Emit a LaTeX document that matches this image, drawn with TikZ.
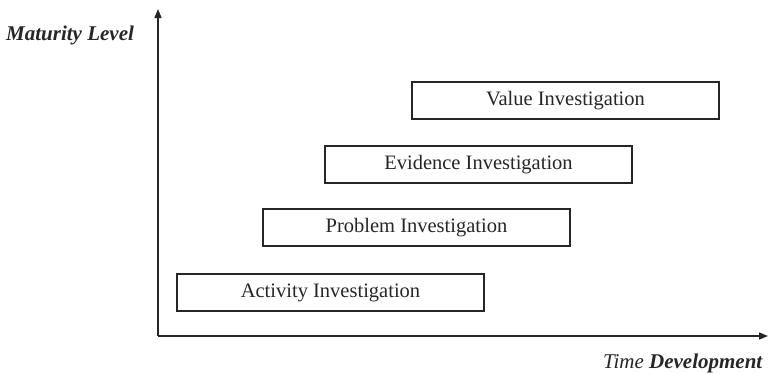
\documentclass[tikz,border=0pt]{standalone}
\usepackage{fontspec}
\setmainfont{Liberation Serif}
\usetikzlibrary{arrows.meta}
\begin{document}
\begin{tikzpicture}[x=1pt,y=-1pt,
  stage/.style={draw=black!85,line width=1.1pt,minimum width=307pt,minimum height=37pt,
    inner sep=0pt,font=\fontsize{20.5}{22}\selectfont,text=black!85},
  axis/.style={line width=1.4pt,draw=black!85,-{Triangle[length=9pt,width=7pt]}},
  axlabel/.style={font=\fontsize{21}{23}\selectfont,text=black!85}]
\useasboundingbox (0,0) rectangle (768,373);
% axes
\coordinate (origin) at (158,336);
\coordinate (ytop) at (158,9);
\coordinate (xend) at (768,336);
\draw[axis] (origin) -- (ytop);
\draw[axis] (origin) -- (xend);
% axis labels
\node[axlabel,anchor=west,inner sep=0pt] (ylab) at (6,35) {\textbf{\textit{Maturity Level}}};
\node[axlabel,anchor=east,inner sep=0pt] (xlab) at (763,363) {\textit{Time} \textbf{\textit{Development}}};
% investigation stages
\node[stage] (act) at (330.5,292.5) {Activity Investigation};
\node[stage] (prob) at (416.5,227.5) {Problem Investigation};
\node[stage] (evid) at (478.5,164.5) {Evidence Investigation};
\node[stage] (val) at (565.5,100.5) {Value Investigation};
\end{tikzpicture}
\end{document}
